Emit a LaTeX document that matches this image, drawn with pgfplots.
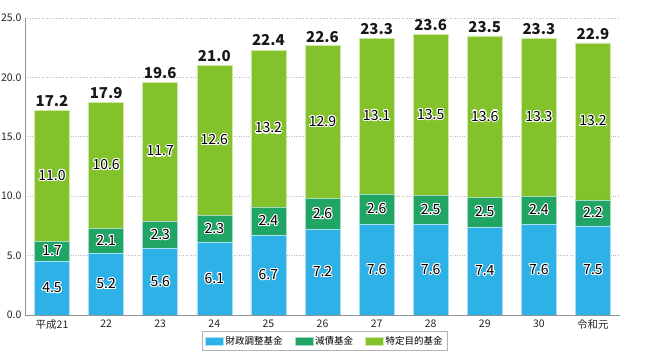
\documentclass[border=0pt]{standalone}
\usepackage{pgfplots}
\pgfplotsset{compat=1.18}
\usepackage{pgfplotstable}
\usepackage{fontspec}
\setmainfont{Noto Sans CJK JP}
\usepackage{contour}
\contourlength{1.1pt}
\contournumber{12}

\definecolor{cBlue}{RGB}{45,177,230}
\definecolor{cGreen}{RGB}{32,165,100}
\definecolor{cLime}{RGB}{132,194,44}

\pgfplotstableread{
x a b c t
0 4.5 1.7 11.0 17.2
1 5.2 2.1 10.6 17.9
2 5.6 2.3 11.7 19.6
3 6.1 2.3 12.6 21.0
4 6.7 2.4 13.2 22.4
5 7.2 2.6 12.9 22.6
6 7.6 2.6 13.1 23.3
7 7.6 2.5 13.5 23.6
8 7.4 2.5 13.6 23.5
9 7.6 2.4 13.3 23.3
10 7.5 2.2 13.2 22.9
}\data

\begin{document}
\begin{tikzpicture}
\begin{axis}[
  scale only axis, width=595pt, height=297pt,
  at={(0,0)}, anchor=south west,
  ybar stacked, bar width=35pt,
  xmin=-0.5, xmax=10.5, ymin=0, ymax=25,
  xtick=data,
  xticklabels={平成21,22,23,24,25,26,27,28,29,30,令和元},
  major x tick style={draw=none},
  extra x ticks={0.5,1.5,...,10.5},
  extra x tick labels={},
  extra x tick style={major tick length=4pt, tick align=inside, tick style={draw=gray!80, line width=0.6pt}},
  ytick={0,5,...,25},
  major y tick style={draw=none},
  ymajorgrids,
  grid style={gray!55, dotted, line width=0.7pt},
  axis x line*=bottom, axis y line*=left,
  axis line style={-, draw=gray!85, line width=0.8pt},
  xticklabel style={font=\fontsize{10.5}{12}\selectfont, text=black!85, yshift=-1pt},
  yticklabel style={font=\fontsize{10.5}{12}\selectfont, text=black!85, /pgf/number format/.cd, fixed, fixed zerofill, precision=1, assume math mode=true},
  legend style={at={(0.504,-0.0875)}, anchor=center, legend columns=3,
    draw=gray!60, line width=0.6pt, font=\fontsize{9.5}{11}\selectfont,
    /tikz/every even column/.append style={column sep=10pt}, inner sep=3pt},
  legend image code/.code={\fill[#1] (0pt,-4pt) rectangle (18pt,4pt);},
  seg/.style={
    nodes near coords={\contour{white}{\pgfplotspointmeta}},
    point meta=explicit symbolic,
    every node near coord/.append style={font=\fontsize{14}{16}\selectfont, text=black, anchor=center}},
]
\addplot[seg, draw=white!60!cBlue, line width=0.5pt, fill=cBlue] table[x=x, y=a, meta=a] \data;
\addlegendentry{財政調整基金}
\addplot[seg, draw=white!60!cGreen, line width=0.5pt, fill=cGreen] table[x=x, y=b, meta=b] \data;
\addlegendentry{減債基金}
\addplot[seg, draw=white!60!cLime, line width=0.5pt, fill=cLime] table[x=x, y=c, meta=c] \data;
\addlegendentry{特定目的基金}
\node[anchor=west, font=\fontsize{9.5}{11}\selectfont, text=black!85] at (rel axis cs:0,1) [xshift=-25pt, yshift=11pt] {(兆円)};
\node[anchor=east, font=\fontsize{9}{11}\selectfont, text=black!85] at (rel axis cs:1,0) [xshift=29pt, yshift=-8pt] {(年度)};
\end{axis}
\begin{axis}[
  scale only axis, width=595pt, height=297pt,
  at={(0,0)}, anchor=south west,
  ybar, bar width=35pt,
  xmin=-0.5, xmax=10.5, ymin=0, ymax=25,
  hide axis,
]
\addplot[draw=none, fill=none, nodes near coords, point meta=explicit symbolic,
  every node near coord/.append style={font=\bfseries\fontsize{15}{17}\selectfont, text=black!90, anchor=south}]
  table[x=x, y=t, meta=t] \data;
\end{axis}
\pgfresetboundingbox
\useasboundingbox (-25pt,-38pt) rectangle (625pt,315pt);
\end{tikzpicture}
\end{document}
